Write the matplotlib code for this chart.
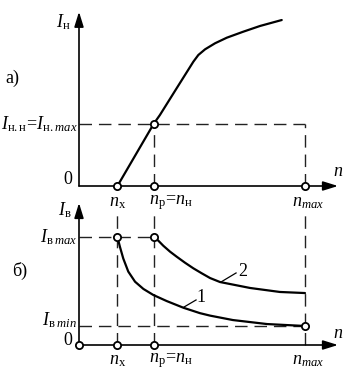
import numpy as np
import matplotlib
matplotlib.use("Agg")
from matplotlib import pyplot as plt

plt.rcParams['font.family'] = ['Liberation Serif', 'DejaVu Serif']
plt.rcParams['mathtext.fontset'] = 'custom'
plt.rcParams['mathtext.rm'] = 'Liberation Serif'
plt.rcParams['mathtext.it'] = 'Liberation Serif:italic'

# частоты вращения (усл. ед.)
n_x, n_p, n_max = 17, 33, 100

# а) ток нагрузки I_н(n)
n_top = [17, 33, 35.8, 43.2, 50.6, 52.8, 55.8, 60.2, 65.4, 72.7, 80.1, 89.7]
I_n = [0.0, 1.0, 1.145, 1.576, 2.005, 2.113, 2.205, 2.302, 2.392, 2.489, 2.581, 2.677]
I_nn = 1.0

# б) ток возбуждения I_в(n), кривые 1 и 2
n_c1 = [17, 18.1, 19.6, 21.8, 24.8, 28.5, 32.9, 38.8, 46.2, 53.5, 58.0, 68.1, 83.2, 100]
I_c1 = [1.0, 0.91, 0.80, 0.68, 0.586, 0.519, 0.463, 0.407, 0.345, 0.295, 0.272, 0.231, 0.194, 0.176]
n_c2 = [33, 35.1, 37.3, 40.3, 43.2, 46.9, 50.6, 54.3, 58.0, 62.4, 75.7, 88.9, 100]
I_c2 = [1.0, 0.966, 0.919, 0.864, 0.818, 0.762, 0.710, 0.664, 0.620, 0.583, 0.528, 0.491, 0.481]
I_vmax, I_vmin = 1.0, 0.176

FS = 13
dash = dict(color='#222222', lw=1.0, ls=(0, (9, 5)), clip_on=False)
circ = dict(marker='o', ms=5.2, mfc='white', mec='black', mew=1.3, ls='none', zorder=5, clip_on=False)
arr = dict(arrowstyle='-|>,head_length=0.9,head_width=0.28', lw=1.2, color='black',
           mutation_scale=10, shrinkA=0, shrinkB=0)
curve = dict(color='black', lw=1.6, solid_capstyle='round', solid_joinstyle='round', clip_on=False)

fig = plt.figure(figsize=(3.43, 3.74), dpi=100)
xl = (-79 / 2.26, (343 - 79) / 2.26)

# ---------- а) ----------
ax1 = fig.add_axes([0, 1 - 205 / 374, 1, 205 / 374])
ax1.set_xlim(xl)
ax1.set_ylim(-19 / 62, 186 / 62)
ax1.set_axis_off()
ax1.annotate('', xy=(114.6, 0), xytext=(0, 0), arrowprops=arr)
ax1.annotate('', xy=(0, 2.81), xytext=(0, 0), arrowprops=arr)
ax1.plot([0, n_max], [I_nn, I_nn], **dash)
ax1.plot([n_p, n_p], [0, I_nn], **dash)
ax1.plot([n_max, n_max], [0, I_nn], **dash)
ax1.plot(n_top, I_n, **curve)
ax1.plot([n_x, n_p, n_max], [0, 0, 0], **circ)
ax1.plot([n_p], [I_nn], **circ)

ax1.text(-7.1, 2.65, r'$I_{\mathrm{н}}$', fontsize=FS, ha='center', va='center')
ax1.text(-4.9, 0.1, '0', fontsize=FS, ha='center', va='center')
ax1.text(-0.8, I_nn, r'$I_{\mathrm{н.н}}\!=\!I_{\mathrm{н.}\mathit{max}}$', fontsize=FS,
         ha='right', va='center')
ax1.text(-29.6, 1.74, 'а)', fontsize=FS, ha='center', va='center')
ax1.text(114.6, 0.23, r'$n$', fontsize=FS, ha='center', va='center')
ax1.text(n_x, -0.27, r'$n_{\mathrm{х}}$', fontsize=FS, ha='center', va='center')
ax1.text(n_p - 2, -0.27, r'$n_{\mathrm{р}}\!=\!n_{\mathrm{н}}$', fontsize=FS, ha='left', va='center')
ax1.text(n_max + 1.3, -0.27, r'$n_{\mathit{max}}$', fontsize=FS, ha='center', va='center')

# ---------- б) ----------
ax2 = fig.add_axes([0, 0, 1, 174 / 374])
ax2.set_xlim(xl)
ax2.set_ylim(-29 / 108, 145 / 108)
ax2.set_axis_off()
ax2.annotate('', xy=(114.6, 0), xytext=(0, 0), arrowprops=arr)
ax2.annotate('', xy=(0, 1.315), xytext=(0, 0), arrowprops=arr)
ax2.plot([0, n_p], [I_vmax, I_vmax], **dash)
ax2.plot([0, n_max], [I_vmin, I_vmin], **dash)
for nv in (n_x, n_p, n_max):
    ax2.plot([nv, nv], [0, 1.2], **dash)
ax2.plot(n_c1, I_c1, **curve)
ax2.plot(n_c2, I_c2, **curve)
ax2.plot([0, n_x, n_p], [0, 0, 0], **circ)
ax2.plot([n_x, n_p], [I_vmax, I_vmax], **circ)
ax2.plot([n_max], [I_vmin], **circ)

ax2.plot([46.5, 51.8], [0.352, 0.417], color='black', lw=0.9)
ax2.plot([62.8, 69.5], [0.583, 0.667], color='black', lw=0.9)
ax2.text(53.8, 0.444, '1', fontsize=FS, ha='center', va='center')
ax2.text(72.3, 0.676, '2', fontsize=FS, ha='center', va='center')

ax2.text(-6.2, 1.25, r'$I_{\mathrm{в}}$', fontsize=FS, ha='center', va='center')
ax2.text(-0.8, I_vmax, r'$I_{\mathrm{в}\;\mathit{max}}$', fontsize=FS, ha='right', va='center')
ax2.text(-0.8, 0.23, r'$I_{\mathrm{в}\;\mathit{min}}$', fontsize=FS, ha='right', va='center')
ax2.text(-5.1, 0.04, '0', fontsize=FS, ha='center', va='center')
ax2.text(-26.1, 0.685, 'б)', fontsize=FS, ha='center', va='center')
ax2.text(114.6, 0.11, r'$n$', fontsize=FS, ha='center', va='center')
ax2.text(n_x, -0.14, r'$n_{\mathrm{х}}$', fontsize=FS, ha='center', va='center')
ax2.text(n_p - 2, -0.14, r'$n_{\mathrm{р}}\!=\!n_{\mathrm{н}}$', fontsize=FS, ha='left', va='center')
ax2.text(n_max + 1.3, -0.14, r'$n_{\mathit{max}}$', fontsize=FS, ha='center', va='center')

fig.savefig('out.png', dpi=100)
